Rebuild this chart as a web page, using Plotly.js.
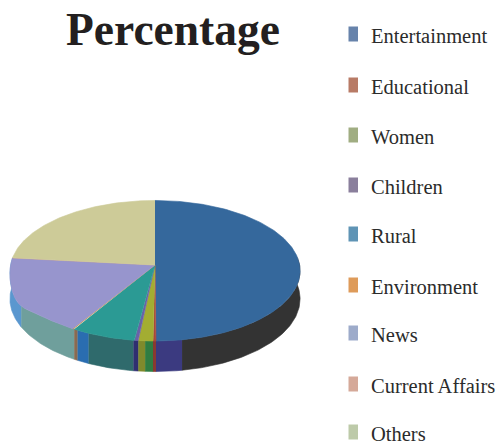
<!DOCTYPE html>
<html>
<head>
<meta charset="utf-8">
<script src="https://cdn.plot.ly/plotly-3.0.1.min.js"></script>
<style>html,body{margin:0;padding:0;background:#fff}</style>
</head>
<body>
<div id="chart" style="width:501px;height:444px"></div>
<script>
// Share of programming by category, in percent, clockwise from twelve o'clock
const categories = ["Entertainment", "Educational", "Women", "Children", "Rural", "Environment", "News", "Current Affairs", "Others"];
const percentages = [49.9, 0.3, 1.5, 0.4, 6.6, 0.2, 17.8, 0.1, 23.2];

const topColors = ["#35689c", "#a8483a", "#a3ad32", "#6a62a8", "#2b9a94", "#c98a3c", "#9795cd", "#c9a090", "#cdcb98"];
const keyColors = ["#6783ab", "#b87b66", "#a0ad82", "#8a7f9c", "#5f94b5", "#de9b5a", "#9dabca", "#d5a999", "#bdcaa9"];
const legendRows = [36, 87, 137, 187, 236, 287, 335, 386, 434];

// Side wall colour runs: each run ends at a cumulative percentage round the pie
const wallRuns = [
  [47.25, "#333333"], [49.9, "#3b3a80"], [50.2, "#8a3a30"], [51.0, "#2f7d42"], [51.7, "#7f8a2c"],
  [52.2, "#2f2f70"], [57.0, "#2f6a6c"], [58.3, "#2a6db0"], [58.7, "#8a6a50"], [67.5, "#6f9f9c"], [100, "#5a97cf"]
];

// Projection of the tilted disc onto the page
const cx = 155, cy = 265, a = 144.6, b = 69.8, k = 0.082, wall = 28;
function rim(pct) {
  const t = pct / 100 * 2 * Math.PI, u = Math.sin(t), v = -Math.cos(t), w = 1 - k * v;
  // The lower left of the disc sits a little fuller than a true ellipse
  const bulge = 9 * Math.exp(-Math.pow((pct - 69) / 4.5, 2));
  const y = cy + b * v / w;
  return {x: cx + a * u / w, y: y + bulge, floor: y + wall / w, v: v};
}
function arc(from, to) {
  const pts = [], n = Math.max(2, Math.ceil((to - from) * 4));
  for (let i = 0; i <= n; i++) pts.push(rim(from + (to - from) * i / n));
  return pts;
}

const traces = [];
function poly(xs, ys, color) {
  traces.push({type: "scatter", mode: "lines", x: xs, y: ys, fill: "toself", fillcolor: color,
    line: {color: color, width: 0.6}, hoverinfo: "skip", showlegend: false});
}

// Side wall, visible on the near half only
let start = 0;
wallRuns.forEach(([end, color]) => {
  const pts = arc(start, end).filter(p => p.v > -0.12);
  if (pts.length > 1) {
    const xs = pts.map(p => p.x).concat(pts.slice().reverse().map(p => p.x));
    const ys = pts.map(p => p.y).concat(pts.slice().reverse().map(p => p.floor));
    poly(xs, ys, color);
  }
  start = end;
});

// Top face
let cum = 0;
percentages.forEach((p, i) => {
  const pts = arc(cum, cum + p);
  poly([cx].concat(pts.map(q => q.x)), [cy].concat(pts.map(q => q.y)), topColors[i]);
  cum += p;
});

const shapes = categories.map((c, i) => ({
  type: "rect", xref: "x", yref: "y", x0: 348.5, x1: 358, y0: legendRows[i] - 9.5, y1: legendRows[i] + 5.5,
  fillcolor: keyColors[i], line: {width: 0}
}));
const annotations = categories.map((c, i) => ({
  xref: "x", yref: "y", x: 369, y: legendRows[i], text: c, showarrow: false, xanchor: "left", yanchor: "middle",
  font: {family: "Liberation Serif", size: 20.5, color: "#2b2b2b"}
}));

Plotly.newPlot("chart", traces, {
  width: 501, height: 444, margin: {l: 0, r: 0, t: 0, b: 0},
  paper_bgcolor: "#fff", plot_bgcolor: "#fff", showlegend: false,
  title: {text: "Percentage", x: 173 / 501, xanchor: "center", y: 1 - 29 / 444, yanchor: "middle",
    font: {family: "Liberation Serif", size: 45.5, color: "#231f20", weight: 700}},
  xaxis: {range: [0, 501], visible: false, fixedrange: true},
  yaxis: {range: [444, 0], visible: false, fixedrange: true},
  shapes: shapes, annotations: annotations
}, {displayModeBar: false, staticPlot: true});
</script>
</body>
</html>
